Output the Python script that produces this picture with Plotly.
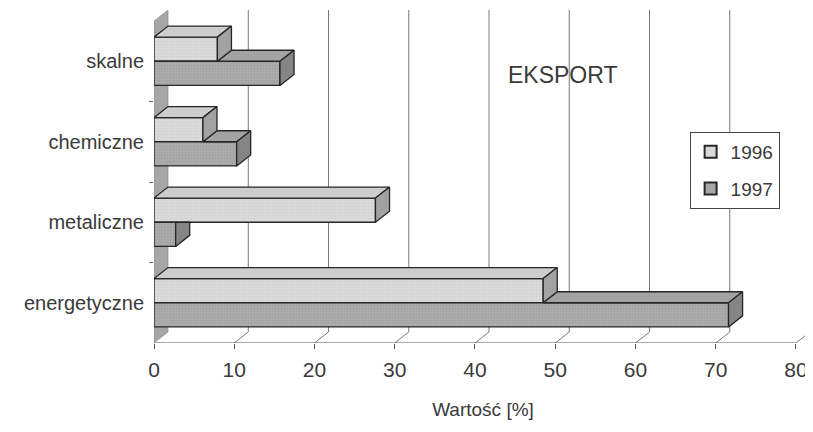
import plotly.graph_objects as go

# ---- data ----
categories = ["skalne", "chemiczne", "metaliczne", "energetyczne"]
values_1996 = [7.9, 6.1, 27.6, 48.5]
values_1997 = [15.7, 10.3, 2.7, 71.6]
series_names = ["1996", "1997"]
x_ticks = [0, 10, 20, 30, 40, 50, 60, 70, 80]
chart_label = "EKSPORT"
x_title = "Wartość [%]"

# ---- style / pseudo-3D geometry ----
DX = 1.75      # depth offset along value axis (x units)
DY = 0.137     # depth offset along category axis (y units)
BW = 0.30      # bar thickness (y units)
XMAX = 80
pos = [len(categories) - 1 - i for i in range(len(categories))]  # top-to-bottom

EDGE = "#262626"
C96_FRONT, C96_TOP, C96_SIDE = "#dadada", "#cdcdcd", "#a2a2a2"
C97_FRONT, C97_TOP, C97_SIDE = "#ababab", "#a3a3a3", "#858585"
WALL = "#a6a6a6"
TXT = "#3a3a3a"
FONT = "Liberation Sans, Arial, sans-serif"

fig = go.Figure()

# front faces (real bar traces)
fig.add_trace(go.Bar(
    y=pos, x=values_1996, base=0, orientation="h", offset=0, width=BW,
    name=series_names[0], legendgroup="a",
    marker=dict(color=C96_FRONT, line=dict(color=EDGE, width=1.4),
                pattern=dict(shape=".", size=3, solidity=0.25, fgcolor="#c4c4c4", bgcolor=C96_FRONT)),
    hoverinfo="x+y"))
fig.add_trace(go.Bar(
    y=pos, x=values_1997, base=0, orientation="h", offset=-BW, width=BW,
    name=series_names[1], legendgroup="b",
    marker=dict(color=C97_FRONT, line=dict(color=EDGE, width=1.4),
                pattern=dict(shape=".", size=3, solidity=0.3, fgcolor="#959595", bgcolor=C97_FRONT)),
    hoverinfo="x+y"))


def poly_trace(xs, ys, fill):
    return go.Scatter(x=xs, y=ys, mode="lines", fill="toself", fillcolor=fill,
                      line=dict(color=EDGE, width=1.3), showlegend=False,
                      hoverinfo="skip")


# 1997 (lower bar) top and side faces, clipped where the 1996 bar hides them
tx, ty, sx, sy = [], [], [], []
for yc, v6, v7 in zip(pos, values_1996, values_1997):
    if v7 > v6:
        tx += [v6, v7, v7 + DX, v6 + DX, v6, None]
        ty += [yc, yc, yc + DY, yc + DY, yc, None]
        sx += [v7, v7, v7 + DX, v7 + DX, v7, None]
        sy += [yc - BW, yc, yc + DY, yc - BW + DY, yc - BW, None]
    else:
        sx += [v7, v7, v7 + DX, v7 + DX, v7, None]
        sy += [yc - BW, yc, yc, yc - BW + DY, yc - BW, None]
fig.add_trace(poly_trace(tx, ty, C97_TOP))
fig.add_trace(poly_trace(sx, sy, C97_SIDE))

# 1996 (upper bar) top and side faces
tx, ty, sx, sy = [], [], [], []
for yc, v6 in zip(pos, values_1996):
    top = yc + BW
    tx += [0, v6, v6 + DX, DX, 0, None]
    ty += [top, top, top + DY, top + DY, top, None]
    sx += [v6, v6, v6 + DX, v6 + DX, v6, None]
    sy += [yc, top, top + DY, yc + DY, yc, None]
fig.add_trace(poly_trace(tx, ty, C96_TOP))
fig.add_trace(poly_trace(sx, sy, C96_SIDE))

# ---- walls, floor, gridlines (shapes below the data) ----
ylo, yhi = -0.5, len(categories) - 0.5
shapes = []
shapes.append(dict(type="path", xref="x", yref="y", layer="below",
                   path=f"M 0,{ylo} L {DX},{ylo+DY} L {DX},{yhi+DY} L 0,{yhi} Z",
                   fillcolor=WALL, line=dict(color="#8a8a8a", width=0.6)))
for v in x_ticks[1:]:
    shapes.append(dict(type="line", xref="x", yref="y", layer="below",
                       x0=v + DX, x1=v + DX, y0=ylo + DY, y1=yhi + DY,
                       line=dict(color="#6a6a6a", width=0.9)))
    shapes.append(dict(type="line", xref="x", yref="y", layer="below",
                       x0=v, x1=v + DX, y0=ylo, y1=ylo + DY,
                       line=dict(color="#6a6a6a", width=0.9)))
shapes.append(dict(type="line", xref="x", yref="y", layer="below",
                   x0=0, x1=XMAX, y0=ylo, y1=ylo,
                   line=dict(color="#555555", width=1)))

# the page body has an 8px margin: figure size/margins compensate for it
fig.update_layout(
    width=805, height=424,
    margin=dict(l=146, r=1, t=2, b=89),
    paper_bgcolor="white", plot_bgcolor="white",
    barmode="overlay",
    shapes=shapes,
    font=dict(family=FONT, size=19, color=TXT),
    showlegend=True,
    legend=dict(x=0.814, y=0.634, xanchor="left", yanchor="top",
                bgcolor="white", bordercolor="#444444", borderwidth=1,
                font=dict(size=19, color=TXT), tracegroupgap=9,
                itemsizing="constant"),
    annotations=[dict(text=chart_label, x=0.622, y=0.804, xref="paper", yref="paper",
                      xanchor="center", yanchor="middle",
                      showarrow=False, font=dict(size=23, color=TXT))],
    xaxis=dict(range=[0, XMAX + 2], tickvals=x_ticks, showgrid=False, zeroline=False,
               showline=False, ticks="outside", ticklen=5, tickcolor="#555555",
               ticklabelstandoff=3, ticklabeloverflow="allow",
               tickfont=dict(size=21, color=TXT),
               title=dict(text=x_title, font=dict(size=19, color=TXT), standoff=22)),
    yaxis=dict(range=[ylo, yhi + DY], tickvals=pos, ticktext=categories,
               showgrid=False, zeroline=False, showline=False, ticks="",
               ticklabelstandoff=9,
               tickfont=dict(size=20, color=TXT),
               minor=dict(tickvals=[p + 0.5 for p in range(len(categories) - 1)],
                          ticks="outside", ticklen=4, tickcolor="#666666")),
)

fig.write_html("out.html")
